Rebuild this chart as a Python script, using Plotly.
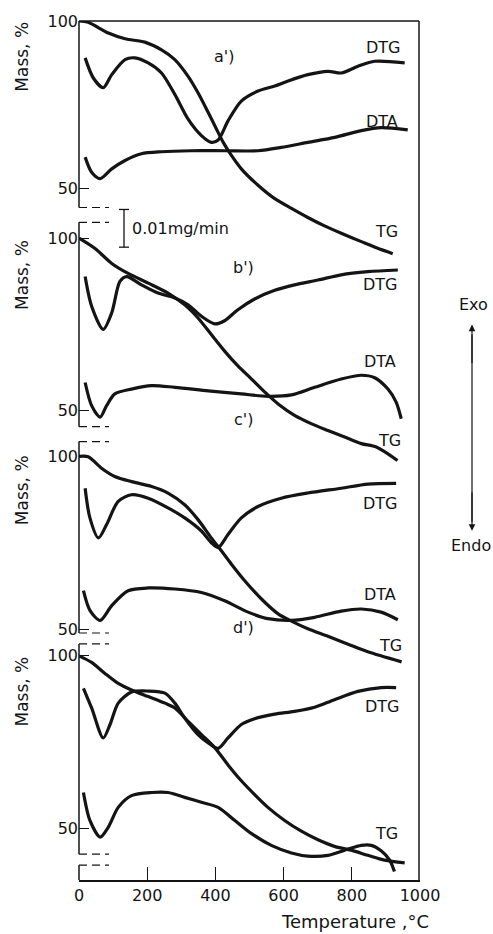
import plotly.graph_objects as go

# ---------------- data (temperature in °C, values on each panel's "Mass, %" scale) -------------
# panel a')
a_tg_t = [0, 27, 86, 135, 193, 242, 281, 320, 349, 379, 403, 423, 447, 476, 525, 574, 623, 671, 720, 769, 828, 876, 920]
a_tg_v = [100, 99.6, 96.4, 94.7, 93.7, 91.4, 88.5, 83.5, 78.6, 72.7, 67.8, 63.8, 59.9, 55.9, 51.0, 47.0, 44.1, 41.4, 38.9, 36.7, 34.2, 32.2, 30.6]
a_dtg_t = [18, 42, 71, 96, 135, 164, 203, 242, 281, 320, 359, 388, 408, 437, 476, 525, 574, 613, 671, 730, 769, 818, 867, 955]
a_dtg_v = [89.0, 83.0, 80.1, 84.0, 88.5, 89.0, 87.5, 84.5, 78.1, 70.7, 65.8, 63.8, 64.5, 70.2, 76.1, 79.1, 80.6, 82.1, 84.0, 85.0, 84.5, 86.5, 88.0, 87.5]
a_dta_t = [18, 37, 62, 96, 135, 183, 242, 330, 427, 525, 593, 671, 750, 828, 886, 964]
a_dta_v = [59.4, 54.9, 53.0, 55.9, 58.4, 60.4, 61.0, 61.3, 61.3, 61.3, 62.3, 63.8, 65.3, 67.3, 68.2, 67.5]

# panel b')
b_tg_t = [0, 47, 96, 144, 203, 261, 310, 349, 388, 427, 466, 506, 545, 584, 632, 681, 730, 779, 828, 872, 934]
b_tg_v = [100, 97.0, 92.7, 89.8, 87.0, 84.1, 80.7, 76.9, 72.1, 67.3, 63.0, 59.2, 55.4, 52.0, 48.7, 46.3, 44.3, 42.4, 40.5, 39.5, 35.6]
b_dtg_t = [18, 37, 71, 96, 120, 140, 183, 232, 281, 320, 359, 398, 427, 466, 515, 574, 632, 701, 769, 847, 935]
b_dtg_v = [88.9, 80.3, 73.6, 78.4, 87.5, 88.9, 86.5, 84.1, 82.7, 80.7, 77.4, 75.2, 76.1, 79.3, 82.4, 84.9, 86.5, 87.9, 89.4, 90.3, 90.8]
b_dta_t = [18, 37, 62, 81, 105, 154, 213, 281, 379, 476, 554, 623, 691, 769, 828, 867, 906, 930, 945]
b_dta_v = [58.2, 51.5, 48.2, 51.5, 54.9, 56.3, 57.3, 56.8, 55.8, 54.9, 54.2, 54.6, 56.8, 59.2, 60.3, 59.6, 56.3, 52.5, 47.7]

# panel c')
c_tg_t = [0, 27, 66, 105, 154, 213, 261, 310, 349, 388, 418, 447, 486, 535, 584, 623, 671, 730, 789, 847, 946]
c_tg_v = [100, 99.9, 96.6, 94.2, 92.7, 91.3, 89.4, 86.0, 81.7, 76.4, 72.6, 68.8, 64.0, 58.7, 54.4, 52.3, 50.1, 47.9, 45.6, 43.4, 40.5]
c_dtg_t = [18, 32, 57, 81, 115, 154, 203, 261, 310, 359, 388, 408, 437, 476, 525, 593, 671, 769, 847, 930]
c_dtg_v = [90.8, 82.2, 76.4, 80.3, 87.0, 88.9, 87.9, 85.1, 82.2, 78.4, 75.0, 73.6, 77.4, 82.2, 85.5, 87.9, 89.4, 90.8, 92.0, 92.2]
c_dta_t = [13, 32, 62, 96, 144, 203, 281, 359, 427, 496, 554, 623, 691, 769, 828, 886, 935]
c_dta_v = [61.1, 55.4, 52.5, 56.8, 61.1, 61.9, 61.6, 60.6, 58.2, 54.9, 53.0, 52.5, 53.4, 55.2, 55.8, 54.9, 52.7]

# panel d')
d_tg_t = [0, 37, 76, 115, 154, 203, 252, 281, 320, 359, 398, 437, 476, 515, 554, 603, 652, 701, 749, 798, 847, 896, 955]
d_tg_v = [100, 98.1, 94.9, 92.0, 90.1, 88.2, 86.3, 84.9, 81.0, 77.2, 73.4, 68.4, 63.8, 59.8, 56.1, 52.3, 49.2, 46.7, 44.8, 43.7, 42.2, 40.8, 40.0]
d_dtg_t = [13, 37, 71, 91, 115, 154, 203, 252, 281, 310, 349, 379, 408, 437, 476, 515, 574, 632, 691, 749, 818, 886, 930]
d_dtg_v = [90.6, 84.9, 76.2, 80.1, 86.3, 89.5, 89.8, 89.2, 86.3, 82.0, 77.2, 74.8, 73.2, 76.2, 80.1, 81.8, 83.1, 83.9, 85.1, 87.3, 89.7, 90.8, 90.8]
d_dta_t = [13, 32, 62, 86, 115, 154, 213, 261, 310, 359, 408, 457, 506, 564, 623, 671, 730, 779, 828, 857, 886, 911, 925]
d_dta_v = [60.4, 52.3, 47.5, 50.4, 56.1, 59.5, 60.4, 60.4, 59.0, 57.6, 56.1, 52.3, 48.5, 45.1, 42.9, 42.0, 42.2, 43.7, 45.1, 45.1, 43.5, 40.8, 37.5]

x_ticks = [0, 200, 400, 600, 800, 1000]
y_ticks = [50, 100]

# ---------------- layout geometry ----------------
W, H = 493, 934
ML, MR, MT, MB = 79, 73, 14, 54
PW = W - ML - MR
PH = H - MT - MB
BOT = H - MB


def xp(px):
    return (px - ML) / PW


def yp(py):
    return (BOT - py) / PH


# pixel rows of 100 % and 50 % for each panel
panel_pix = {"a": (14, 183), "b": (233, 407), "c": (453, 627), "d": (654, 828)}


def yrange(p100, p50):
    s = (p50 - p100) / 50.0
    return [100 - (BOT - p100) / s, 100 + (p100 - MT) / s]


INK = "#141414"
FONT = "DejaVu Sans"

fig = go.Figure()
series = [
    ("y", a_tg_t, a_tg_v), ("y", a_dtg_t, a_dtg_v), ("y", a_dta_t, a_dta_v),
    ("y2", b_tg_t, b_tg_v), ("y2", b_dtg_t, b_dtg_v), ("y2", b_dta_t, b_dta_v),
    ("y3", c_tg_t, c_tg_v), ("y3", c_dtg_t, c_dtg_v), ("y3", c_dta_t, c_dta_v),
    ("y4", d_tg_t, d_tg_v), ("y4", d_dtg_t, d_dtg_v), ("y4", d_dta_t, d_dta_v),
]
for ax, t, v in series:
    fig.add_trace(go.Scatter(x=t, y=v, yaxis=ax, mode="lines",
                             line=dict(color=INK, width=3.2, shape="spline", smoothing=0.8),
                             showlegend=False, hoverinfo="skip"))

yax_common = dict(domain=[0, 1], tickvals=y_ticks, ticktext=[str(v) for v in y_ticks],
                  ticks="inside", ticklen=10, tickwidth=1.3, tickcolor=INK,
                  showline=False, showgrid=False, zeroline=False,
                  tickfont=dict(family=FONT, size=16, color=INK))

fig.update_layout(
    width=W, height=H, autosize=False,
    margin=dict(l=ML, r=MR, t=MT, b=MB, pad=0),
    paper_bgcolor="white", plot_bgcolor="white",
    xaxis=dict(range=[0, 1000], tickvals=x_ticks, ticktext=[str(v) for v in x_ticks],
               ticks="inside", ticklen=13, tickwidth=1.3, tickcolor=INK,
               showline=True, linecolor=INK, linewidth=1.5,
               showgrid=False, zeroline=False,
               tickfont=dict(family=FONT, size=16, color=INK)),
    yaxis=dict(range=yrange(*panel_pix["a"]), **yax_common),
    yaxis2=dict(range=yrange(*panel_pix["b"]), overlaying="y", **yax_common),
    yaxis3=dict(range=yrange(*panel_pix["c"]), overlaying="y", **yax_common),
    yaxis4=dict(range=yrange(*panel_pix["d"]), overlaying="y", **yax_common),
)

shapes = []


def seg(x0, y0, x1, y1, width=1.5, dash="solid"):
    shapes.append(dict(type="line", xref="paper", yref="paper",
                       x0=xp(x0), y0=yp(y0), x1=xp(x1), y1=yp(y1),
                       line=dict(color=INK, width=width, dash=dash)))


# frame
seg(79, 14, 419, 14)
seg(419, 14, 419, 880)
# broken left axis
for top, bot in [(14, 202), (217, 423), (438, 631), (642, 854), (865, 880)]:
    seg(79, top, 79, bot)
for yy in [202, 217, 423, 438, 631, 642, 854, 865]:
    seg(79, yy, 109, yy, width=1.2, dash="8px,5px")
# scale bar
seg(124, 204, 124, 242, width=1.3)
seg(119, 204, 129, 204, width=1.3)
seg(119, 242, 129, 242, width=1.3)
# Exo/Endo arrow shaft
seg(472, 330, 472, 519, width=1.2)
fig.update_layout(shapes=shapes)

ann = []


def label(px, py, text, size=16, **kw):
    d = dict(xref="paper", yref="paper", x=xp(px), y=yp(py), text=text, showarrow=False,
             font=dict(family=FONT, size=size, color=INK), xanchor="center", yanchor="middle")
    d.update(kw)
    ann.append(d)


# panel letters
label(224, 50, "a')")
label(243, 263, "b')")
label(243, 416, "c')")
label(243, 625, "d')")
# curve labels
label(383, 41, "DTG"); label(382, 115, "DTA"); label(386, 226, "TG")
label(380, 280, "DTG"); label(380, 357, "DTA"); label(389, 437, "TG")
label(380, 500, "DTG"); label(380, 592, "DTA"); label(390, 644, "TG")
label(382, 705, "DTG"); label(386, 833, "TG")
# y titles
for cy in [50, 270, 487, 690]:
    label(22, cy, "Mass, %", size=17, textangle=-90)
# scale bar text
label(130, 223, "0.01mg/min", size=16, xanchor="left")
# x title
label(355, 922, "Temperature ,°C", size=18)
# Exo / Endo
label(473, 300, "Exo", size=16)
label(471, 543, "Endo", size=16)
for head, tail in [(320, 360), (528, 488)]:
    ann.append(dict(xref="paper", yref="paper", x=xp(472), y=yp(head), ax=0, ay=tail - head,
                    text="", showarrow=True, arrowhead=2, arrowsize=1.1, arrowwidth=1.2,
                    arrowcolor=INK))
fig.update_layout(annotations=ann)

fig.write_html("out.html")
